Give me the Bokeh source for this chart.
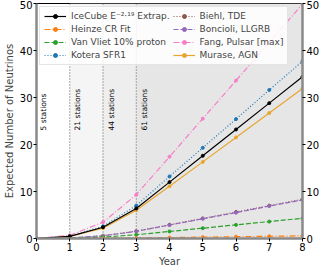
from math import pi
from bokeh.plotting import figure
from bokeh.models import LinearAxis, Legend, LegendItem, Range1d, FixedTicker
from bokeh.core.properties import value
from bokeh.embed import file_html
from bokeh.resources import INLINE

years = [0, 1, 2, 3, 4, 5, 6, 7, 8]
icecube = [0, 0.46, 2.4, 6.4, 12.0, 17.6, 23.2, 28.8, 34.4]
heinze = [0, 0.01, 0.04, 0.1, 0.2, 0.29, 0.38, 0.47, 0.56]
vanvliet = [0, 0.06, 0.3, 0.8, 1.5, 2.2, 2.9, 3.6, 4.3]
kotera = [0, 0.5, 2.6, 7.0, 13.2, 19.3, 25.4, 31.6, 37.7]
biehl = [0, 0.11, 0.58, 1.56, 2.92, 4.28, 5.64, 7.0, 8.35]
boncioli = [0, 0.11, 0.57, 1.53, 2.87, 4.2, 5.5, 6.9, 8.2]
fang = [0, 0.67, 3.46, 9.3, 17.4, 25.5, 33.6, 41.7, 49.9]
murase = [0, 0.43, 2.2, 6.0, 11.1, 16.3, 21.5, 26.7, 31.9]

station_years = [1, 2, 3]
station_labels = ["5 stations", "21 stations", "44 stations", "61 stations"]
label_x = [0.21, 1.23, 2.26, 3.24]
label_y = [23, 23, 23, 23]
shade_left = [1, 2, 3]
shade_right = [2, 3, 8]
shade_colors = ["#f5f5f5", "#eeeeee", "#e6e6e6"]

FONT = "DejaVu Sans"

p = figure(frame_width=266, frame_height=235, output_backend="svg", toolbar_location=None,
           x_range=Range1d(0, 8), y_range=Range1d(0, 50),
           min_border_top=3, min_border_right=2, min_border_left=2, min_border_bottom=2)
p.background_fill_color = "white"
p.border_fill_color = "white"
p.outline_line_color = "black"
p.outline_line_width = 1
p.grid.visible = False

# shaded regions
p.quad(left=shade_left, right=shade_right, bottom=0, top=50, fill_color=shade_colors,
       line_color=None)
for xv in station_years:
    p.line([xv, xv], [0, 50], line_color="#555555", line_dash="1 2", line_width=1)

p.text(x=label_x, y=label_y, text=station_labels, angle=pi / 2,
       text_align="left", text_baseline="middle", text_font=value(FONT),
       text_font_size="7.5px", text_color="black")

series = [
    ("IceCube E⁻²·¹⁹ Extrap.", icecube, "black", "solid"),
    ("Heinze CR Fit", heinze, "#ff7f0e", "dashdot"),
    ("Van Vliet 10% proton", vanvliet, "#2ca02c", "dashed"),
    ("Kotera SFR1", kotera, "#1f77b4", "dotted"),
    ("Biehl, TDE", biehl, "#8c564b", "dotted"),
    ("Boncioli, LLGRB", boncioli, "#9467bd", "dashed"),
    ("Fang, Pulsar [max]", fang, "#f77fc8", "dashdot"),
    ("Murase, AGN", murase, "#e8a630", "solid"),
]
dash_map = {"solid": "solid", "dashdot": "6 2 1 2", "dashed": "5 2", "dotted": "1 2"}
items = []
draw_order = [4, 5, 2, 1, 6, 3, 7, 0]
renderers = {}
for i in draw_order:
    name, vals, col, dash = series[i]
    r1 = p.line(years, vals, line_color=col, line_width=1.2, line_dash=dash_map[dash])
    r2 = p.scatter(years, vals, size=3, fill_color=col, line_color=col)
    renderers[i] = [r1, r2]
for i in range(8):
    items.append(LegendItem(label=series[i][0], renderers=renderers[i]))

legend = Legend(items=items, ncols=2, location="top_left",
                label_text_font=FONT, label_text_font_size="9px",
                label_height=10, glyph_height=10, glyph_width=22, label_standoff=5,
                spacing=3, padding=4, margin=3,
                border_line_color="#cccccc", border_line_width=1,
                background_fill_color="white", background_fill_alpha=0.85)
p.add_layout(legend, "center")

# axes
p.xaxis.axis_label = "Year"
p.yaxis.axis_label = "Expected Number of Neutrinos"
p.xaxis.ticker = FixedTicker(ticks=years)
p.yaxis.ticker = FixedTicker(ticks=[0, 10, 20, 30, 40, 50])

right = LinearAxis(ticker=FixedTicker(ticks=[0, 10, 20, 30, 40, 50]))
p.add_layout(right, "right")

for ax in p.axis:
    ax.axis_label_text_font = FONT
    ax.axis_label_text_font_size = "10px"
    ax.axis_label_text_font_style = "normal"
    ax.major_label_text_font = FONT
    ax.major_label_text_font_size = "10px"
    ax.major_label_text_color = "black"
    ax.minor_tick_line_color = None
    ax.major_tick_in = 0
    ax.major_tick_out = 3
    ax.major_tick_line_color = "black"
    ax.axis_line_color = "#8a8a8a"
    ax.axis_line_width = 2.5
    ax.major_label_standoff = 1
    ax.axis_label_standoff = 2

open("out.html", "w").write(file_html(p, INLINE))
